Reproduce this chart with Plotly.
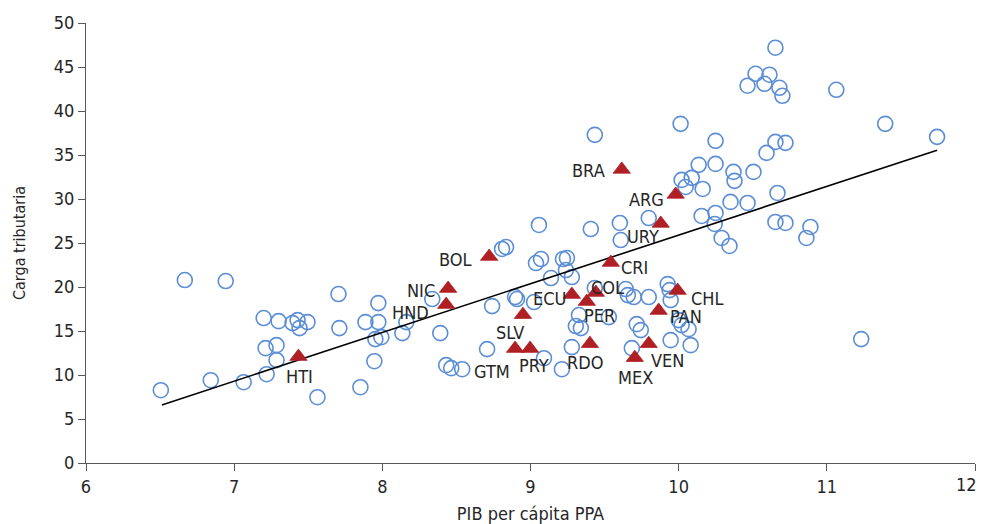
import plotly.graph_objects as go

# Other countries (open circles)
others_x = [6.505, 6.667, 6.943, 6.842, 7.064, 7.199, 7.300, 7.394, 7.428, 7.441, 7.495,
            7.212, 7.286, 7.286, 7.219, 7.562, 7.704, 7.710, 7.886, 7.973, 7.973, 7.953,
            7.993, 7.946, 7.852, 8.135, 8.162, 8.337, 8.391, 8.431, 8.465, 8.539, 8.707,
            8.741, 8.808, 8.835, 8.896, 8.909, 9.024, 9.037, 9.071, 9.057, 9.138, 9.219,
            9.246, 9.239, 9.279, 9.407, 9.091, 9.212, 9.279, 9.327, 9.306, 9.340, 9.434,
            9.434, 9.529, 9.603, 9.609, 9.643, 9.657, 9.697, 9.798, 9.798, 9.926, 9.939,
            9.946, 10.000, 10.020, 10.067, 9.717, 9.744, 9.946, 10.081, 9.684, 10.013,
            10.135, 10.249, 10.020, 10.088, 10.047, 10.162, 10.249, 10.370, 10.377, 10.505,
            10.593, 10.653, 10.721, 10.350, 10.465, 10.667, 10.155, 10.249, 10.243, 10.290,
            10.343, 10.653, 10.721, 10.889, 10.862, 10.653, 10.519, 10.613, 10.465, 10.579,
            10.680, 10.700, 11.064, 11.394, 11.744, 11.232]
others_y = [8.27, 20.79, 20.68, 9.41, 9.18, 16.47, 16.12, 15.90, 16.24, 15.33, 16.01,
            13.05, 13.39, 11.69, 10.09, 7.48, 19.20, 15.33, 16.01, 18.17, 16.01, 14.08,
            14.30, 11.57, 8.61, 14.76, 16.01, 18.63, 14.76, 11.12, 10.78, 10.66, 12.94,
            17.83, 24.32, 24.54, 18.86, 18.63, 18.29, 22.72, 23.18, 27.05, 21.02, 23.18,
            23.29, 21.93, 21.13, 26.59, 11.91, 10.66, 13.17, 16.81, 15.56, 15.33, 37.29,
            19.88, 16.58, 27.28, 25.34, 19.77, 19.08, 18.86, 18.86, 27.84, 20.33, 19.65,
            18.51, 16.24, 15.67, 15.21, 15.78, 15.10, 13.96, 13.39, 13.05, 38.54,
            33.88, 33.99, 32.17, 32.40, 31.37, 31.14, 36.61, 33.08, 32.06, 33.08,
            35.24, 36.49, 36.38, 29.67, 29.55, 30.69, 28.07, 28.41, 27.16, 25.57,
            24.66, 27.39, 27.28, 26.82, 25.57, 47.19, 44.23, 44.12, 42.87, 43.09,
            42.64, 41.73, 42.41, 38.54, 37.06, 14.08]

# Latin American countries (triangles)
lac_names = ["HTI", "BOL", "NIC", "HND", "SLV", "GTM", "PRY", "ECU", "PER", "COL",
             "RDO", "CRI", "BRA", "URY", "ARG", "CHL", "PAN", "VEN", "MEX"]
lac_x = [7.434, 8.721, 8.444, 8.431, 8.949, 8.896, 8.997, 9.279, 9.380, 9.441,
         9.401, 9.542, 9.616, 9.879, 9.980, 9.993, 9.865, 9.798, 9.704]
lac_y = [12.09, 23.46, 19.82, 18.00, 16.86, 13.00, 13.00, 19.14, 18.34, 19.37,
         13.56, 22.78, 33.36, 27.22, 30.52, 19.60, 17.32, 13.56, 11.97]

# Label offsets in pixels (style only)
lab_dx = [1, -34, -27, -36, -13, -23, 4, -22, 13, 12, -5, 24, -33, -18, -29, 30, 27, 19, 1]
lab_dy = [18, 1, 0, 6, 16, 21, 15, 2, 12, -7, 17, 3, -1, 11, 3, 6, 4, 15, 18]

# Fitted trend line endpoints
trend_x = [6.512, 11.744]
trend_y = [6.60, 35.55]

x_ticks = [6, 7, 8, 9, 10, 11, 12]
y_ticks = [0, 5, 10, 15, 20, 25, 30, 35, 40, 45, 50]

FONT = "DejaVu Sans Condensed, Liberation Sans Narrow, sans-serif"
TXT = "#262626"

fig = go.Figure()
fig.add_trace(go.Scatter(
    x=others_x, y=others_y, mode="markers",
    marker=dict(symbol="circle-open", size=15, color="#5B8ED6", line=dict(width=1.6, color="#5B8ED6")),
    hoverinfo="skip", showlegend=False))
fig.add_trace(go.Scatter(
    x=trend_x, y=trend_y, mode="lines",
    line=dict(color="black", width=1.6), showlegend=False, hoverinfo="skip"))
fig.add_trace(go.Scatter(
    x=lac_x, y=lac_y, mode="markers",
    marker=dict(symbol="triangle-up", size=15, color="#B01F24", line=dict(width=0.8, color="#B01F24")),
    text=lac_names, hoverinfo="text", showlegend=False))

for n, x, y, dx, dy in zip(lac_names, lac_x, lac_y, lab_dx, lab_dy):
    fig.add_annotation(x=x, y=y, text=n, showarrow=False, xshift=dx, yshift=-dy - 2,
                       font=dict(family=FONT, size=18, color=TXT))

# last x tick label drawn right-aligned so it stays inside the page
fig.add_annotation(x=x_ticks[-1], y=0, xref="x", yref="y", text=str(x_ticks[-1]),
                   showarrow=False, xanchor="right", yanchor="top", xshift=4, yshift=-9,
                   font=dict(family=FONT, size=18, color=TXT))

axis_common = dict(showgrid=False, zeroline=False, showline=True, linecolor="#595959",
                   linewidth=1, ticks="outside", tickcolor="#595959", ticklen=7,
                   tickfont=dict(family=FONT, size=18, color=TXT))

fig.update_xaxes(range=[6, 12], tickvals=x_ticks,
                 ticktext=[str(v) for v in x_ticks[:-1]] + [""],
                 title=dict(text="PIB per cápita PPA", font=dict(family=FONT, size=18, color=TXT), standoff=12),
                 **axis_common)
fig.update_yaxes(range=[0, 50], tickvals=y_ticks, ticktext=[str(v) for v in y_ticks],
                 title=dict(text="Carga tributaria", font=dict(family=FONT, size=16, color=TXT), standoff=24),
                 **axis_common)

fig.update_layout(width=981, height=524, margin=dict(l=86, r=6, t=23, b=61, autoexpand=False),
                  plot_bgcolor="white", paper_bgcolor="white", font=dict(family=FONT, color=TXT))

fig.write_html("out.html", config={"displayModeBar": False},
               post_script="document.body.style.margin='0';")
